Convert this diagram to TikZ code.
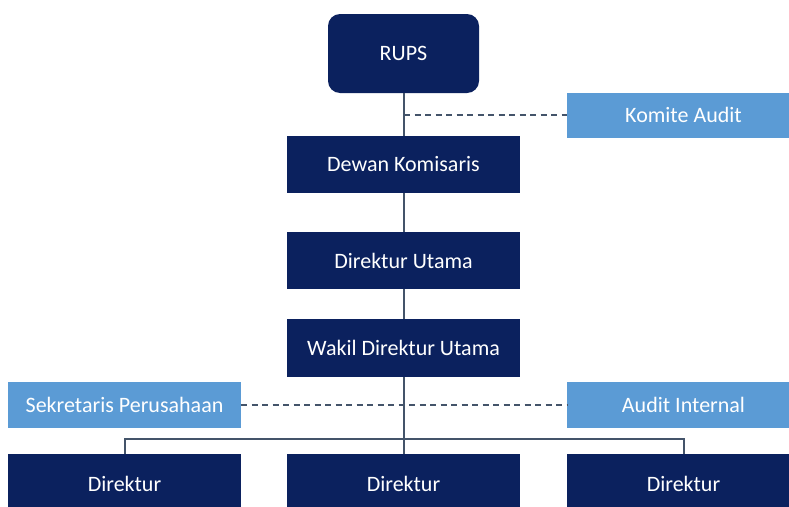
\documentclass[tikz,border=0pt]{standalone}
\usepackage{fontspec}
\setmainfont{Carlito}
\definecolor{navy}{HTML}{0B215E}
\definecolor{lblue}{HTML}{5B9BD5}
\definecolor{lnc}{HTML}{44546A}
\begin{document}
\begin{tikzpicture}[x=1pt,y=-1pt,
  box/.style={draw=none,inner sep=0pt,font=\fontsize{22}{26}\selectfont,text=white},
  dark/.style={box,fill=navy},
  light/.style={box,fill=lblue},
  conn/.style={draw=lnc,line width=1.3pt},
  dconn/.style={conn,dash pattern=on 6pt off 4.5pt}]
\useasboundingbox[fill=white] (0,0) rectangle (789,506);
\begin{scope}
\clip (0,0) rectangle (789,506);
\node[dark,rounded corners=12pt,minimum width=151pt,minimum height=79pt] (rups) at (403.5,53.5) {RUPS};
\node[light,minimum width=233pt,minimum height=45pt] (komite) at (683.5,115) {Komite Audit};
\node[dark,minimum width=233pt,minimum height=57pt] (dewan) at (403.5,164.5) {Dewan Komisaris};
\node[dark,minimum width=233pt,minimum height=57pt] (dirut) at (403.5,260.5) {Direktur Utama};
\node[dark,minimum width=233pt,minimum height=58pt] (wadirut) at (403.5,348) {Wakil Direktur Utama};
\node[light,minimum width=233pt,minimum height=46pt] (sekre) at (124.5,405) {Sekretaris Perusahaan};
\node[light,minimum width=233pt,minimum height=46pt] (audit) at (683.5,405) {Audit Internal};
\node[dark,minimum width=233pt,minimum height=60pt] (d1) at (124.5,484) {Direktur};
\node[dark,minimum width=233pt,minimum height=60pt] (d2) at (403.5,484) {Direktur};
\node[dark,minimum width=233pt,minimum height=60pt] (d3) at (683.5,484) {Direktur};
\coordinate (j1) at (404,115);
\coordinate (hl) at (125,439);
\coordinate (hr) at (684,439);
\draw[conn] (rups.south -| j1) -- (dewan.north -| j1);
\draw[conn] (dewan.south -| j1) -- (dirut.north -| j1);
\draw[conn] (dirut.south -| j1) -- (wadirut.north -| j1);
\draw[conn] (wadirut.south -| j1) -- (d2.north -| j1);
\draw[conn] (hl |- d1.north) -- (hl) -- (hr) -- (hr |- d3.north);
\draw[dconn] (j1) -- (komite.west);
\draw[dconn] (sekre.east) -- (audit.west);
\end{scope}
\end{tikzpicture}
\end{document}
